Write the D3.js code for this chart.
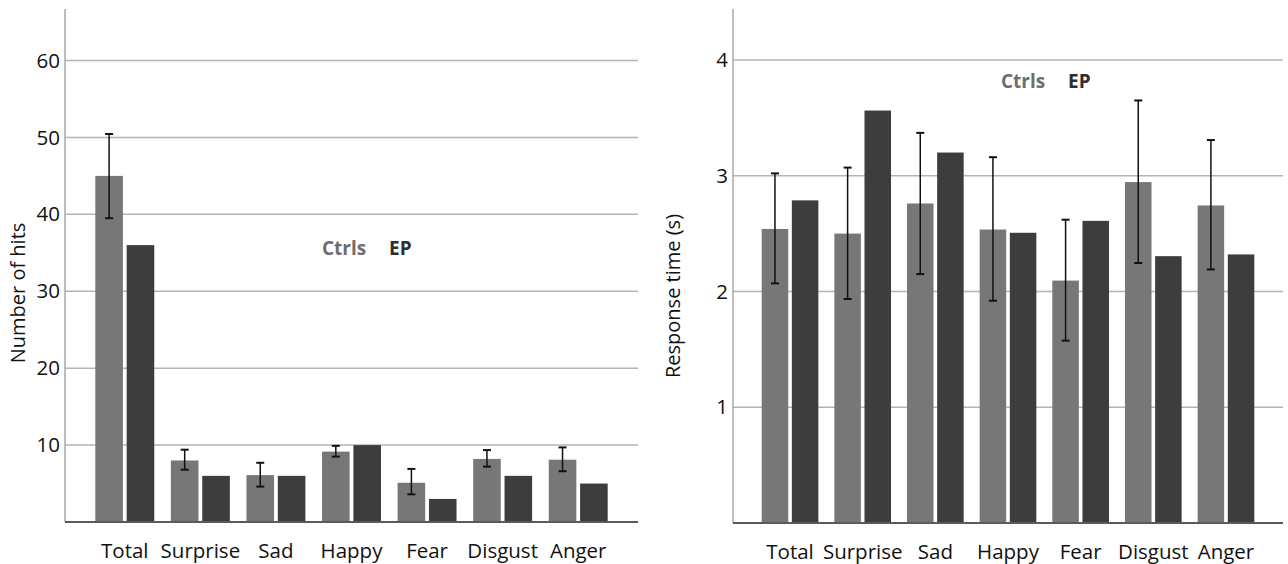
<!DOCTYPE html>
<html>
<head>
<meta charset="utf-8">
<script src="https://cdn.jsdelivr.net/npm/d3@7"></script>
<style>
  html, body { margin: 0; padding: 0; background: #fff; }
  svg { display: block; font-family: "Open Sans", sans-serif; }
</style>
</head>
<body>
<svg id="chart" width="1288" height="564"></svg>
<script>
// ---- data ----
const categories = ["Total", "Surprise", "Sad", "Happy", "Fear", "Disgust", "Anger"];
const series = ["Ctrls", "EP"];

const hitsCtrls = [45, 8.0, 6.1, 9.15, 5.1, 8.2, 8.1];
const hitsEP = [36, 6, 6, 10, 3, 6, 5];
const hitsErrLow = [39.5, 6.8, 4.6, 8.5, 3.6, 7.2, 6.6];
const hitsErrHigh = [50.45, 9.4, 7.7, 9.9, 6.9, 9.35, 9.7];
const hitsTicks = [10, 20, 30, 40, 50, 60];

const rtCtrls = [2.54, 2.50, 2.76, 2.535, 2.094, 2.945, 2.743];
const rtEP = [2.787, 3.563, 3.20, 2.507, 2.61, 2.305, 2.32];
const rtErrLow = [2.07, 1.935, 2.15, 1.92, 1.575, 2.246, 2.19];
const rtErrHigh = [3.02, 3.07, 3.37, 3.16, 2.62, 3.65, 3.308];
const rtTicks = [1, 2, 3, 4];

const svg = d3.select("#chart");
const colors = { Ctrls: "#777777", EP: "#3d3d3d" };
const legendColors = { Ctrls: "#6e6e6e", EP: "#2e2e2e" };

function drawPanel(cfg) {
  const g = svg.append("g");
  const y = d3.scaleLinear().domain([0, cfg.yMax]).range([cfg.yBase, cfg.yTop]);
  const x = d3.scaleBand().domain(categories).range(cfg.bandRange)
    .paddingInner(0.22).paddingOuter(0.11);
  const xs = d3.scaleBand().domain(series).range([0, x.bandwidth()]).paddingInner(0.12);

  // gridlines
  g.append("g").selectAll("line").data(cfg.ticks).join("line")
    .attr("x1", cfg.axisX).attr("x2", cfg.gridEnd)
    .attr("y1", d => y(d)).attr("y2", d => y(d))
    .attr("stroke", "#b4b4b4").attr("stroke-width", 1.5);

  // y axis (labels)
  const yAxis = d3.axisLeft(y).tickValues(cfg.ticks).tickSize(0).tickPadding(5)
    .tickFormat(d3.format("d"));
  const ya = g.append("g").attr("transform", `translate(${cfg.axisX},0)`).call(yAxis);
  ya.select(".domain").remove();
  ya.selectAll("text").attr("font-size", 20.5).attr("fill", "#111")
    .attr("font-family", "'Open Sans', sans-serif");

  // vertical axis line
  g.append("line").attr("x1", cfg.axisX).attr("x2", cfg.axisX)
    .attr("y1", cfg.yTop).attr("y2", cfg.yBase)
    .attr("stroke", "#a8a8a8").attr("stroke-width", 1.5);

  // bars
  const rows = categories.map((c, i) => ({ c, i }));
  const grp = g.append("g").selectAll("g").data(rows).join("g")
    .attr("transform", d => `translate(${x(d.c)},0)`);
  grp.selectAll("rect").data(d => series.map(s => ({
      s, v: s === "Ctrls" ? cfg.ctrls[d.i] : cfg.ep[d.i] })))
    .join("rect")
    .attr("x", d => xs(d.s)).attr("width", xs.bandwidth())
    .attr("y", d => y(d.v)).attr("height", d => y(0) - y(d.v))
    .attr("fill", d => colors[d.s]);

  // error bars on Ctrls
  const eb = grp.append("g")
    .attr("transform", `translate(${xs("Ctrls") + xs.bandwidth() / 2},0)`)
    .attr("stroke", "#111").attr("stroke-width", 1.5);
  eb.append("line").attr("x1", 0).attr("x2", 0)
    .attr("y1", d => y(cfg.lo[d.i])).attr("y2", d => y(cfg.hi[d.i]));
  eb.append("line").attr("x1", -4).attr("x2", 4)
    .attr("y1", d => y(cfg.lo[d.i])).attr("y2", d => y(cfg.lo[d.i])).attr("stroke-width", 2);
  eb.append("line").attr("x1", -4).attr("x2", 4)
    .attr("y1", d => y(cfg.hi[d.i])).attr("y2", d => y(cfg.hi[d.i])).attr("stroke-width", 2);

  // bottom axis
  const xAxis = d3.axisBottom(x).tickSize(0).tickPadding(21);
  const xa = g.append("g").attr("transform", `translate(0,${cfg.yBase})`).call(xAxis);
  xa.select(".domain").remove();
  xa.selectAll("text").attr("font-size", 20.5).attr("fill", "#111")
    .attr("font-family", "'Open Sans', sans-serif");
  g.append("line").attr("x1", cfg.axisX).attr("x2", cfg.gridEnd)
    .attr("y1", cfg.yBase).attr("y2", cfg.yBase)
    .attr("stroke", "#5a5a5a").attr("stroke-width", 2);

  // y title
  g.append("text")
    .attr("transform", `translate(${cfg.titleX},${cfg.titleY}) rotate(-90)`)
    .attr("text-anchor", "middle").attr("dominant-baseline", "central")
    .attr("font-size", 20).attr("fill", "#111")
    .text(cfg.title);

  // legend
  const lg = g.append("g").attr("font-weight", "bold").attr("font-size", 19);
  lg.selectAll("text").data(series).join("text")
    .attr("x", (d, i) => cfg.legendX[i]).attr("y", cfg.legendY)
    .attr("dominant-baseline", "central")
    .attr("fill", d => legendColors[d])
    .text(d => d);
}

drawPanel({
  yMax: 66.7, yTop: 9, yBase: 522, axisX: 65, gridEnd: 638,
  bandRange: [87, 616], ticks: hitsTicks,
  ctrls: hitsCtrls, ep: hitsEP, lo: hitsErrLow, hi: hitsErrHigh,
  title: "Number of hits", titleX: 17, titleY: 293,
  legendX: [322, 389], legendY: 248
});

drawPanel({
  yMax: 4.44, yTop: 9, yBase: 523, axisX: 733, gridEnd: 1283,
  bandRange: [753.7, 1262.3], ticks: rtTicks,
  ctrls: rtCtrls, ep: rtEP, lo: rtErrLow, hi: rtErrHigh,
  title: "Response time (s)", titleX: 672, titleY: 296,
  legendX: [1001, 1068], legendY: 81
});
</script>
</body>
</html>
